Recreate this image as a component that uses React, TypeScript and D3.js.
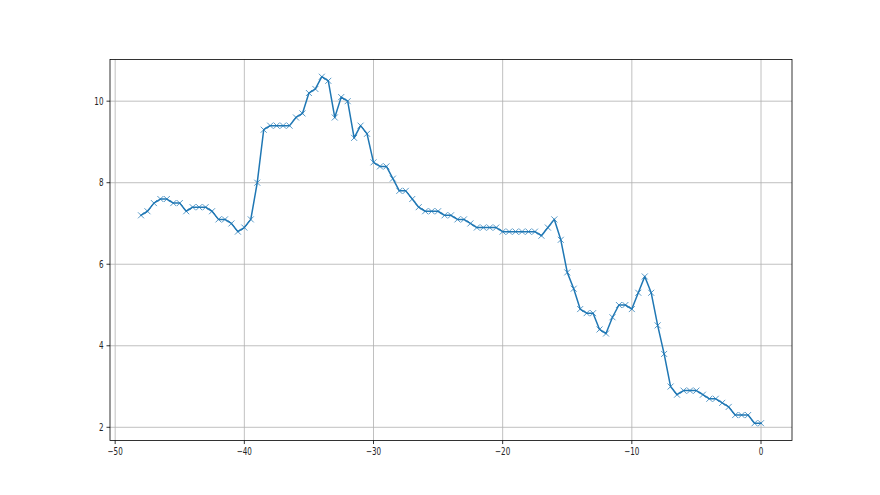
import React, { useEffect, useRef } from "react";
import * as d3 from "d3";

const xStart = -48;
const xStep = 0.5;
const values: number[] = [
  7.2, 7.3, 7.5, 7.6, 7.6, 7.5, 7.5, 7.3, 7.4, 7.4, 7.4, 7.3, 7.1, 7.1, 7.0, 6.8, 6.9, 7.1, 8.0,
  9.3, 9.4, 9.4, 9.4, 9.4, 9.6, 9.7, 10.2, 10.3, 10.6, 10.5, 9.6, 10.1, 10.0, 9.1, 9.4, 9.2,
  8.5, 8.4, 8.4, 8.1, 7.8, 7.8, 7.6, 7.4, 7.3, 7.3, 7.3, 7.2, 7.2, 7.1, 7.1, 7.0, 6.9, 6.9, 6.9, 6.9,
  6.8, 6.8, 6.8, 6.8, 6.8, 6.8, 6.7, 6.9, 7.1, 6.6, 5.8, 5.4, 4.9, 4.8, 4.8, 4.4, 4.3, 4.7, 5.0, 5.0,
  4.9, 5.3, 5.7, 5.3, 4.5, 3.8, 3.0, 2.8, 2.9, 2.9, 2.9, 2.8, 2.7, 2.7, 2.6, 2.5, 2.3, 2.3, 2.3, 2.1, 2.1,
];
const xValues: number[] = values.map((_, i) => xStart + i * xStep);
const xTicks: number[] = [-50, -40, -30, -20, -10, 0];
const yTicks: number[] = [2, 4, 6, 8, 10];

const W = 880;
const H = 495;
const left = 110;
const right = 792;
const top = 59.4;
const bottom = 440.55;
const sx = 0.72;

export default function App() {
  const ref = useRef<SVGSVGElement>(null);
  useEffect(() => {
    const svg = d3.select(ref.current);
    svg.selectAll("*").remove();
    const xMin = d3.min(xValues)!;
    const xMax = d3.max(xValues)!;
    const yMin = d3.min(values)!;
    const yMax = d3.max(values)!;
    const xm = (xMax - xMin) * 0.05;
    const ym = (yMax - yMin) * 0.05;
    const x = d3.scaleLinear().domain([xMin - xm, xMax + xm]).range([left, right]);
    const y = d3.scaleLinear().domain([yMin - ym, yMax + ym]).range([bottom, top]);

    svg.append("rect").attr("x", 0).attr("y", 0).attr("width", W).attr("height", H).attr("fill", "#fff");

    const g = svg.append("g");
    g.selectAll(".gx").data(xTicks).enter().append("line")
      .attr("x1", (d) => x(d)).attr("x2", (d) => x(d))
      .attr("y1", top).attr("y2", bottom)
      .attr("stroke", "#b0b0b0").attr("stroke-width", 0.8);
    g.selectAll(".gy").data(yTicks).enter().append("line")
      .attr("x1", left).attr("x2", right)
      .attr("y1", (d) => y(d)).attr("y2", (d) => y(d))
      .attr("stroke", "#b0b0b0").attr("stroke-width", 0.8);

    const data = values.map((v, i) => [xValues[i], v] as [number, number]);
    const line = d3.line<[number, number]>().x((d) => x(d[0])).y((d) => y(d[1]));
    g.append("path").attr("d", line(data)!).attr("fill", "none")
      .attr("stroke", "#1f77b4").attr("stroke-width", 1.5).attr("stroke-linejoin", "round").attr("stroke-linecap", "square");

    const s = 3;
    g.selectAll(".mk").data(data).enter().append("path")
      .attr("d", (d) => {
        const cx = x(d[0]);
        const cy = y(d[1]);
        return `M${cx - s},${cy - s}L${cx + s},${cy + s}M${cx - s},${cy + s}L${cx + s},${cy - s}`;
      })
      .attr("stroke", "#1f77b4").attr("stroke-opacity", 0.75).attr("stroke-width", 1).attr("fill", "none");

    g.append("rect").attr("x", left).attr("y", top).attr("width", right - left).attr("height", bottom - top)
      .attr("fill", "none").attr("stroke", "#000").attr("stroke-width", 0.8);

    const fmt = (d: number) => (d < 0 ? "\u2212" + Math.abs(d) : String(d));
    xTicks.forEach((t) => {
      g.append("line").attr("x1", x(t)).attr("x2", x(t)).attr("y1", bottom).attr("y2", bottom + 3.5)
        .attr("stroke", "#000").attr("stroke-width", 0.8);
      g.append("text").attr("transform", `translate(${x(t)},${bottom + 7}) scale(${sx},1)`)
        .attr("dy", "0.76em")
        .attr("text-anchor", "middle").attr("font-family", "DejaVu Sans").attr("font-size", 10)
        .attr("fill", "#222").text(fmt(t));
    });
    yTicks.forEach((t) => {
      g.append("line").attr("x1", left - 3.5).attr("x2", left).attr("y1", y(t)).attr("y2", y(t))
        .attr("stroke", "#000").attr("stroke-width", 0.8);
      g.append("text").attr("transform", `translate(${left - 6.5},${y(t)}) scale(${sx},1)`)
        .attr("dy", "0.35em")
        .attr("text-anchor", "end").attr("font-family", "DejaVu Sans").attr("font-size", 10)
        .attr("fill", "#222").text(fmt(t));
    });
  }, []);
  return (
    <svg ref={ref} width={W} height={H} style={{ position: "absolute", left: 0, top: 0 }} />
  );
}
